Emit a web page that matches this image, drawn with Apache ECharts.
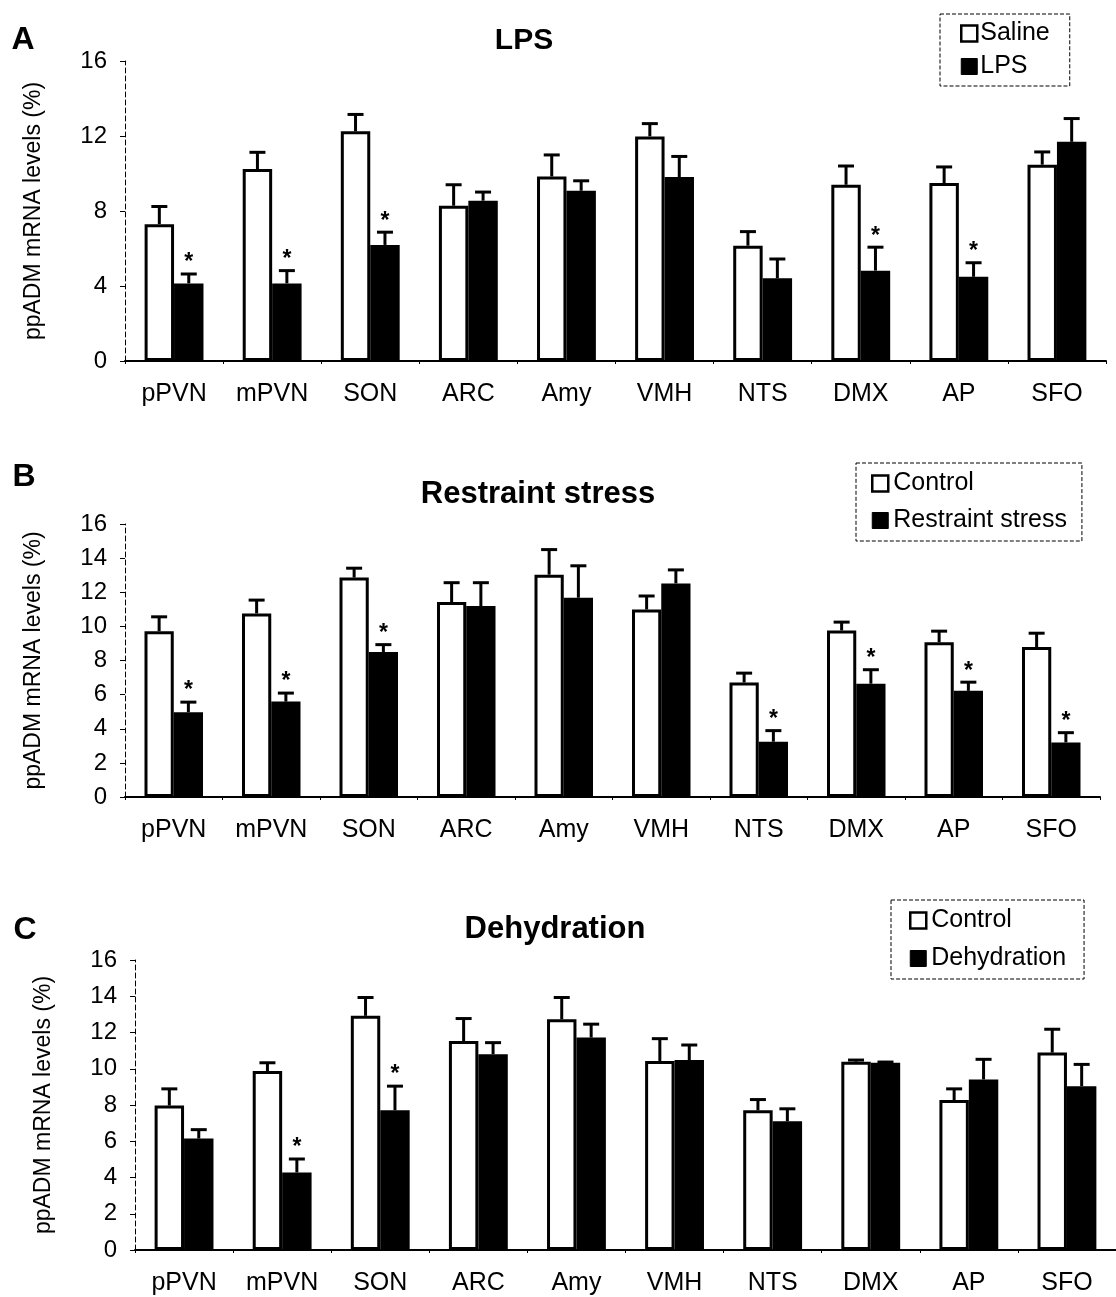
<!DOCTYPE html>
<html>
<head>
<meta charset="utf-8">
<script src="https://cdn.jsdelivr.net/npm/echarts@6/dist/echarts.min.js"></script>
<style>
html,body{margin:0;padding:0;background:#fff;}
#chart{width:1116px;height:1297px;}
</style>
</head>
<body>
<div id="chart"></div>
<script>
const categories = ['pPVN','mPVN','SON','ARC','Amy','VMH','NTS','DMX','AP','SFO'];

// Panel A: LPS
const lpsSaline    = [7.30, 10.24, 12.25, 8.28, 9.84, 11.98, 6.15, 9.40, 9.49, 10.47];
const lpsSalineSE  = [0.94, 0.89, 0.90, 1.12, 1.15, 0.68, 0.75, 1.00, 0.86, 0.68];
const lpsLPS       = [4.14, 4.14, 6.19, 8.55, 9.08, 9.81, 4.41, 4.82, 4.49, 11.69];
const lpsLPSSE     = [0.50, 0.68, 0.68, 0.46, 0.53, 1.10, 1.03, 1.25, 0.75, 1.24];
const lpsSig       = [1, 1, 1, 0, 0, 0, 0, 1, 1, 0];

// Panel B: Restraint stress
const rsControl    = [9.72, 10.76, 12.86, 11.43, 13.03, 10.99, 6.71, 9.76, 9.07, 8.79];
const rsControlSE  = [0.84, 0.78, 0.55, 1.13, 1.47, 0.79, 0.55, 0.49, 0.65, 0.81];
const rsStress     = [4.97, 5.59, 8.50, 11.19, 11.68, 12.52, 3.24, 6.64, 6.22, 3.20];
const rsStressSE   = [0.59, 0.50, 0.43, 1.37, 1.87, 0.79, 0.65, 0.82, 0.51, 0.57];
const rsSig        = [1, 1, 1, 0, 0, 0, 1, 1, 1, 1];

// Panel C: Dehydration
const dhControl    = [7.97, 9.87, 12.92, 11.53, 12.73, 10.43, 7.71, 10.39, 8.27, 10.89];
const dhControlSE  = [0.92, 0.46, 1.01, 1.24, 1.20, 1.23, 0.59, 0.09, 0.62, 1.29];
const dhDehyd      = [6.15, 4.28, 7.71, 10.80, 11.72, 10.48, 7.10, 10.33, 9.41, 9.04];
const dhDehydSE    = [0.49, 0.74, 1.33, 0.64, 0.74, 0.83, 0.69, 0.04, 1.11, 1.20];
const dhSig        = [0, 1, 1, 0, 0, 0, 0, 0, 0, 0];

const FONT = 'Liberation Sans, Arial, Helvetica, sans-serif';
const BAR_FRAC = 0.30;

const panels = [
  {grid:{left:125, top:61, width:981, height:300}, interval:4, names:['Saline','LPS'],
   a:lpsSaline, aSE:lpsSalineSE, b:lpsLPS, bSE:lpsLPSSE, sig:lpsSig,
   legend:{left:940, top:14, padding:[7,20,7,20], itemGap:8, textPad:[0,0,0,-2]}},
  {grid:{left:125, top:524, width:975, height:273}, interval:2, names:['Control','Restraint stress'],
   a:rsControl, aSE:rsControlSE, b:rsStress, bSE:rsStressSE, sig:rsSig,
   legend:{left:856, top:463, padding:[8,15,8,15], itemGap:12, textPad:[0,0,0,0]}},
  {grid:{left:135, top:960, width:995, height:290}, interval:2, names:['Control ','Dehydration'],
   a:dhControl, aSE:dhControlSE, b:dhDehyd, bSE:dhDehydSE, sig:dhSig,
   legend:{left:891, top:900, padding:[8,18,8,18], itemGap:13, textPad:[0,0,0,0]}}
];

function errRender(params, api) {
  const i = api.value(0), mean = api.value(1), se = api.value(2), sig = api.value(3), side = api.value(4);
  const base = api.coord([i, mean]);
  const bandW = api.size([1, 0])[0];
  const x = base[0] + side * bandW * BAR_FRAC / 2;
  const topY = api.coord([i, mean + se])[1];
  const children = [
    {type:'line', shape:{x1:x, y1:base[1], x2:x, y2:topY}, style:{stroke:'#000', lineWidth:3}},
    {type:'line', shape:{x1:x-8, y1:topY, x2:x+8, y2:topY}, style:{stroke:'#000', lineWidth:3}}
  ];
  if (sig) {
    children.push({type:'text', x:x, y:topY-11, style:{text:'*', fill:'#000', font:'bold 23px ' + FONT, align:'center', verticalAlign:'middle'}});
  }
  return {type:'group', children};
}

const grid = [], xAxis = [], yAxis = [], series = [], legend = [];
panels.forEach((p, k) => {
  grid.push(p.grid);
  xAxis.push({type:'category', gridIndex:k, data:categories,
    axisLine:{lineStyle:{color:'#000', width:2}},
    axisTick:{show:true, length:3, lineStyle:{color:'#000'}},
    axisLabel:{color:'#000', fontSize:25, fontFamily:FONT, margin:21}});
  yAxis.push({type:'value', gridIndex:k, min:0, max:16, interval:p.interval,
    name:'ppADM mRNA levels (%)', nameLocation:'middle', nameGap:80, nameRotate:90,
    nameTextStyle:{color:'#000', fontSize:23, fontFamily:FONT},
    axisLine:{show:true, lineStyle:{color:'#000', width:1, type:[5,3]}},
    axisTick:{show:true, length:5, lineStyle:{color:'#000'}},
    axisLabel:{color:'#000', fontSize:24, fontFamily:FONT, margin:18},
    splitLine:{show:false}});
  series.push({type:'bar', name:p.names[0], xAxisIndex:k, yAxisIndex:k, data:p.a,
    barWidth:(BAR_FRAC*100)+'%', barGap:'0%',
    itemStyle:{color:'#fff', borderColor:'#000', borderWidth:3}, z:2});
  series.push({type:'bar', name:p.names[1], xAxisIndex:k, yAxisIndex:k, data:p.b,
    barWidth:(BAR_FRAC*100)+'%', barGap:'0%',
    itemStyle:{color:'#000', borderColor:'#000', borderWidth:3}, z:2});
  series.push({type:'custom', xAxisIndex:k, yAxisIndex:k, renderItem:errRender, z:3,
    data:p.a.map((v, i) => [i, v, p.aSE[i], 0, -1])});
  series.push({type:'custom', xAxisIndex:k, yAxisIndex:k, renderItem:errRender, z:3,
    data:p.b.map((v, i) => [i, v, p.bSE[i], p.sig[i], 1])});
  legend.push({orient:'vertical', left:p.legend.left, top:p.legend.top, selectedMode:false,
    data:[{name:p.names[0], icon:'rect', itemStyle:{color:'#fff', borderColor:'#000', borderWidth:2.5}},
          {name:p.names[1], icon:'rect', itemStyle:{color:'#000', borderColor:'#000', borderWidth:1}}],
    itemWidth:16, itemHeight:16, itemGap:p.legend.itemGap, padding:p.legend.padding,
    borderColor:'#000', borderWidth:1, borderType:'dashed',
    textStyle:{color:'#000', fontSize:25, fontFamily:FONT, padding:p.legend.textPad}});
});

const chart = echarts.init(document.getElementById('chart'), null, {renderer:'canvas'});
chart.setOption({
  animation:false,
  backgroundColor:'#fff',
  textStyle:{fontFamily:FONT},
  grid, xAxis, yAxis, series, legend,
  graphic:[
    {type:'text', x:23, y:40, style:{text:'A', font:'bold 32px ' + FONT, fill:'#000', align:'center', verticalAlign:'middle'}},
    {type:'text', x:24, y:477, style:{text:'B', font:'bold 32px ' + FONT, fill:'#000', align:'center', verticalAlign:'middle'}},
    {type:'text', x:25, y:930, style:{text:'C', font:'bold 32px ' + FONT, fill:'#000', align:'center', verticalAlign:'middle'}},
    {type:'text', x:524, y:41, style:{text:'LPS', font:'bold 30px ' + FONT, fill:'#000', align:'center', verticalAlign:'middle'}},
    {type:'text', x:538, y:494, style:{text:'Restraint stress', font:'bold 31px ' + FONT, fill:'#000', align:'center', verticalAlign:'middle'}},
    {type:'text', x:555, y:929, style:{text:'Dehydration', font:'bold 31px ' + FONT, fill:'#000', align:'center', verticalAlign:'middle'}}
  ]
});
</script>
</body>
</html>
